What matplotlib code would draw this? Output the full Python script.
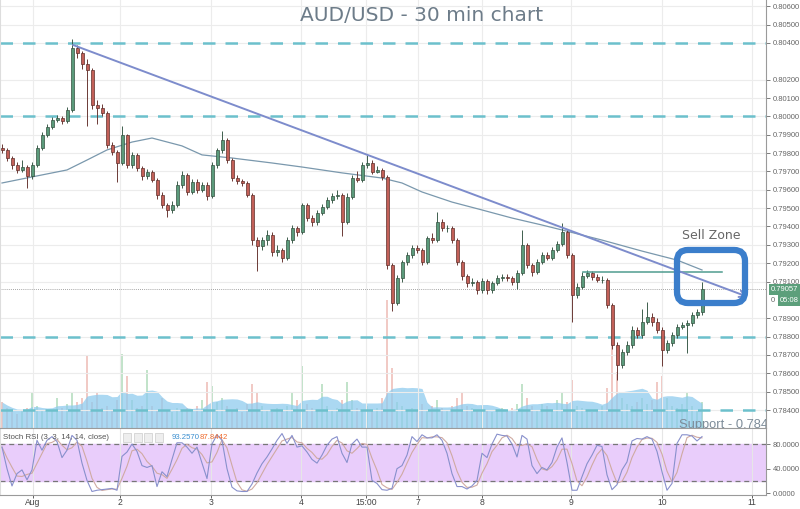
import numpy as np
import pandas as pd
import matplotlib
matplotlib.use('Agg')
import matplotlib.pyplot as plt
from matplotlib.patches import FancyBboxPatch, Rectangle
from matplotlib.transforms import blended_transform_factory

# ---------------- data ----------------
first_open = 0.79830
closes = [0.79817,0.79773,0.79735,0.79708,0.79724,0.79675,0.79735,0.79828,0.79899,0.79942,
          0.79980,0.79991,0.79975,0.80035,0.80373,0.80345,0.80286,0.80253,0.80062,0.80046,
          0.80019,0.79844,0.79806,0.79746,0.79899,0.79735,0.79790,0.79719,0.79675,0.79697,
          0.79653,0.79572,0.79517,0.79490,0.79517,0.79626,0.79681,0.79588,0.79643,0.79599,
          0.79626,0.79566,0.79735,0.79817,0.79871,0.79762,0.79664,0.79648,0.79637,0.79572,
          0.79326,0.79294,0.79326,0.79354,0.79261,0.79272,0.79228,0.79326,0.79392,0.79370,
          0.79517,0.79446,0.79425,0.79474,0.79506,0.79544,0.79566,0.79572,0.79425,0.79561,
          0.79664,0.79653,0.79735,0.79746,0.79697,0.79708,0.79670,0.79190,0.78983,0.79119,
          0.79206,0.79245,0.79283,0.79272,0.79206,0.79337,0.79326,0.79425,0.79392,0.79392,
          0.79326,0.79206,0.79130,0.79092,0.79097,0.79054,0.79103,0.79054,0.79092,0.79119,
          0.79125,0.79119,0.79097,0.79147,0.79299,0.79190,0.79152,0.79206,0.79245,0.79228,
          0.79272,0.79305,0.79370,0.79245,0.79027,0.79070,0.79130,0.79147,0.79125,0.79108,
          0.79108,0.78972,0.78754,0.78645,0.78716,0.78754,0.78836,0.78809,0.78880,0.78907,
          0.78880,0.78836,0.78727,0.78765,0.78809,0.78852,0.78863,0.78874,0.78918,0.78934,
          0.79057]
highs = [0.79850,0.79830,0.79785,0.79750,0.79760,0.79735,0.79750,0.79845,0.79915,0.79960,
         0.79995,0.80010,0.80000,0.80050,0.80420,0.80390,0.80355,0.80310,0.80265,0.80090,
         0.80070,0.80030,0.79860,0.79815,0.79950,0.79905,0.79805,0.79800,0.79730,0.79715,
         0.79710,0.79665,0.79590,0.79530,0.79540,0.79650,0.79700,0.79690,0.79660,0.79660,
         0.79640,0.79640,0.79750,0.79830,0.79920,0.79880,0.79775,0.79680,0.79660,0.79650,
         0.79585,0.79345,0.79345,0.79380,0.79370,0.79300,0.79285,0.79345,0.79410,0.79405,
         0.79530,0.79530,0.79460,0.79490,0.79520,0.79560,0.79580,0.79600,0.79585,0.79580,
         0.79680,0.79700,0.79750,0.79790,0.79760,0.79730,0.79720,0.79680,0.79200,0.79135,
         0.79220,0.79260,0.79300,0.79300,0.79285,0.79350,0.79365,0.79480,0.79440,0.79410,
         0.79400,0.79335,0.79215,0.79140,0.79120,0.79110,0.79120,0.79115,0.79105,0.79135,
         0.79140,0.79140,0.79130,0.79165,0.79380,0.79310,0.79200,0.79225,0.79260,0.79260,
         0.79290,0.79320,0.79420,0.79380,0.79255,0.79090,0.79150,0.79165,0.79160,0.79140,
         0.79130,0.79120,0.78985,0.78770,0.78730,0.78775,0.78860,0.78850,0.78950,0.78990,
         0.78930,0.78900,0.78850,0.78780,0.78825,0.78870,0.78880,0.78890,0.78935,0.78950,
         0.79100]
lows = [0.79800,0.79755,0.79715,0.79690,0.79695,0.79610,0.79660,0.79725,0.79815,0.79885,
        0.79930,0.79970,0.79960,0.79965,0.80025,0.80320,0.80260,0.79950,0.80040,0.79960,
        0.80000,0.79830,0.79790,0.79640,0.79735,0.79720,0.79720,0.79700,0.79655,0.79660,
        0.79640,0.79550,0.79500,0.79450,0.79475,0.79505,0.79610,0.79570,0.79575,0.79585,
        0.79590,0.79545,0.79555,0.79720,0.79800,0.79745,0.79650,0.79630,0.79620,0.79560,
        0.79300,0.79160,0.79270,0.79300,0.79240,0.79240,0.79205,0.79215,0.79310,0.79350,
        0.79360,0.79430,0.79405,0.79410,0.79460,0.79495,0.79530,0.79550,0.79350,0.79415,
        0.79550,0.79640,0.79640,0.79720,0.79685,0.79690,0.79655,0.79170,0.78940,0.78970,
        0.79100,0.79190,0.79230,0.79255,0.79190,0.79195,0.79310,0.79315,0.79375,0.79370,
        0.79310,0.79190,0.79110,0.79070,0.79075,0.79030,0.79040,0.79030,0.79040,0.79080,
        0.79105,0.79105,0.79080,0.79060,0.79135,0.79175,0.79130,0.79140,0.79195,0.79215,
        0.79215,0.79260,0.79295,0.79230,0.78880,0.79010,0.79060,0.79120,0.79110,0.79095,
        0.79090,0.78955,0.78735,0.78565,0.78630,0.78700,0.78740,0.78790,0.78795,0.78870,
        0.78860,0.78820,0.78640,0.78710,0.78750,0.78795,0.78840,0.78710,0.78860,0.78900,
        0.78920]
volumes = [26,20,16,14,18,20,36,22,18,16,
           18,30,20,24,36,26,30,72,26,36,
           20,22,18,28,74,52,28,20,22,58,
           22,18,30,18,16,20,18,20,16,22,
           28,46,42,26,30,22,18,20,16,24,
           44,36,22,18,16,20,18,22,36,28,
           62,24,20,18,44,22,18,20,28,46,
           28,20,18,22,18,20,30,128,60,26,
           22,18,20,18,24,18,22,28,20,18,
           22,30,36,22,20,18,22,18,16,18,
           20,16,20,24,44,30,22,18,24,22,
           18,28,36,26,48,22,20,18,16,18,
           22,40,90,56,30,24,22,26,30,24,
           28,46,52,30,22,20,24,36,22,18,
           26]
stoch_k = [75,40,12,32,38,22,38,86,70,86,
           92,84,58,70,94,86,49,21,3,5,
           6,7,8,5,60,67,80,68,45,42,
           45,11,35,27,55,82,82,75,65,75,
           49,24,80,95,86,40,10,4,3,3,
           15,33,48,59,72,86,97,81,94,75,
           77,67,55,49,62,78,88,92,65,50,
           80,88,75,75,21,16,6,5,8,40,
           45,62,92,84,95,90,90,95,86,65,
           32,11,11,7,12,21,65,58,80,96,
           94,93,80,59,94,88,45,32,42,38,
           50,75,90,50,5,5,27,48,62,78,
           76,30,6,14,38,51,85,89,88,92,
           88,68,35,5,16,81,95,95,93,85,
           92]
ma_bars = [0,6,13,17,21,26,30,36,40,46,54,60,68,76,80,84,90,96,102,108,112,120,128,135,140]
ma_vals = [0.79637,0.79670,0.79708,0.79762,0.79817,0.79860,0.79882,0.79839,0.79790,0.79773,
           0.79746,0.79724,0.79692,0.79664,0.79637,0.79588,0.79533,0.79490,0.79446,0.79408,
           0.79381,0.79326,0.79266,0.79217,0.79163]
trend_bars = [14.2, 149.2]
trend_vals = [0.80389, 0.79016]
level_lines = [0.80400, 0.80000, 0.78800, 0.78400]
resist_bars = [116.2, 144.0]
resist_val = 0.79152
last_price = 0.79057
sell_zone = [135.0, 148.6, 0.78983, 0.79272]
tick_pos = [6.2, 23.6, 41.8, 59.8, 72.8, 83.2, 96.0, 113.8, 132.0, 150.0]
tick_labels = ['Aug', '2', '3', '4', '15:00', '7', '8', '9', '10', '11']
price_ticks = [0.784,0.785,0.786,0.787,0.788,0.789,0.791,0.792,0.793,0.794,0.795,0.796,
               0.797,0.798,0.799,0.800,0.801,0.802,0.804,0.805,0.806]
stoch_ticks = [0, 40, 80]

SMALL = 'Liberation Sans'
AX_FS = 5.5

# ---------------- figure ----------------
fig = plt.figure(figsize=(8, 5.09), dpi=100)
fig.patch.set_facecolor('white')
W = 766 / 800
rect_main = [0, 1 - 428 / 509, W, 428 / 509]
axv = fig.add_axes(rect_main)
ax = fig.add_axes(rect_main)
axv.set_zorder(0); ax.set_zorder(1)
ax.patch.set_visible(False)
axs = fig.add_axes([0, 14 / 509, W, 67 / 509])

n = len(closes)
x = np.arange(n)
opens = np.array([first_open] + closes[:-1])
c = np.array(closes)
up = c >= opens

# volume panel (behind)
axv.set_xlim(-0.4, 152.8)
axv.set_ylim(0, 428)
axv.axis('off')
vcol = np.where(up, '#b3dcbd', '#eebdb7')
axv.bar(x, volumes, width=0.5, color=vcol, alpha=0.8, zorder=1)
vma = pd.Series(volumes).rolling(8, min_periods=1).mean().values
axv.fill_between(x, 0, vma, color='#8fcbee', alpha=0.75, lw=0, zorder=2)

# price axis
ax.set_xlim(-0.4, 152.8)
ax.set_ylim(0.78302, 0.80634)
ax.yaxis.tick_right()
ax.set_yticks(price_ticks)
ax.set_yticklabels(['%.5f' % t for t in price_ticks], fontfamily=SMALL)
ax.tick_params(axis='y', labelsize=AX_FS, colors='#666666', length=3, width=0.6, pad=2)
ax.set_xticks(tick_pos)
ax.tick_params(axis='x', labelbottom=False, length=0)
ax.grid(True, color='#ececec', lw=0.8)
ax.set_axisbelow(True)
ax.spines['top'].set_visible(False)
ax.spines['left'].set_color('#dddddd')
ax.spines['right'].set_color('#9a9a9a')
ax.spines['bottom'].set_color('#9a9a9a')

# dashed levels
for lv in level_lines:
    ax.axhline(lv, color='#6cc0cc', lw=1.8, ls=(0, (5, 4)), zorder=2)

# last price dotted
ax.axhline(last_price, color='#888888', lw=0.6, ls=(0, (1, 1.5)), zorder=2)

# moving average
ax.plot(ma_bars, ma_vals, color='#7a98ad', lw=0.9, zorder=3)

# candles
wick_col = np.where(up, '#3f5e4d', '#6b3a36')
ax.vlines(x, lows, highs, color=wick_col, lw=0.7, zorder=4)
body_bot = np.minimum(opens, c)
body_h = np.maximum(np.abs(c - opens), 0.00002)
ax.bar(x, body_h, bottom=body_bot, width=0.6,
       color=np.where(up, '#5b9a7b', '#c26058'),
       edgecolor=np.where(up, '#34503f', '#5e2f2b'), lw=0.5, zorder=5)

# resistance line
ax.plot(resist_bars, [resist_val, resist_val], color='#4f9c8f', lw=1.1, zorder=6)

# trend line with arrow
ax.annotate('', xy=(trend_bars[1], trend_vals[1]), xytext=(trend_bars[0], trend_vals[0]),
            arrowprops=dict(arrowstyle='->', color='#7d8ccc', lw=1.4, mutation_scale=12,
                            shrinkA=0, shrinkB=0), zorder=7)

# sell zone box
aspect = (0.02332 / 428) / (1 / 5)
box = FancyBboxPatch((sell_zone[0], sell_zone[2]), sell_zone[1] - sell_zone[0],
                     sell_zone[3] - sell_zone[2],
                     boxstyle='round,pad=0,rounding_size=2.2', mutation_aspect=aspect,
                     fill=False, ec='#3b7ecb', lw=4.5, zorder=8)
ax.add_patch(box)
ax.text((sell_zone[0] + sell_zone[1]) / 2, 0.79350, 'Sell Zone', ha='center', va='center',
        fontsize=9, color='#666666', zorder=9)

# support text
ax.text(135.4, 0.78320, 'Support - 0.7840', ha='left', va='center', fontsize=9.3,
        fontfamily=SMALL, color='#7d8c99', clip_on=True, zorder=9)

# right-side price labels
trans = blended_transform_factory(ax.transAxes, ax.transData)
ax.text(1.0065, last_price, '0.79057', transform=trans, fontsize=AX_FS, color='white',
        fontfamily=SMALL, ha='left', va='center', clip_on=False, zorder=10,
        bbox=dict(boxstyle='square,pad=0.3', fc='#5c9f7b', ec='none'))
ax.text(1.0065, 0.78998, '0', transform=trans, fontsize=AX_FS, color='#666666',
        fontfamily=SMALL, ha='left', va='center', clip_on=False, zorder=10)
ax.text(1.0185, 0.78998, '05:08', transform=trans, fontsize=AX_FS, color='white',
        fontfamily=SMALL, ha='left', va='center', clip_on=False, zorder=10,
        bbox=dict(boxstyle='square,pad=0.3', fc='#5c9f7b', ec='none'))

# ---------------- stoch RSI ----------------
k = pd.Series(stoch_k, dtype=float)
d = k.rolling(3, min_periods=1).mean()
axs.set_xlim(-0.4, 152.8)
axs.set_ylim(-2.7, 106)
axs.axhspan(20, 80, color='#e9cdfb', zorder=0)
axs.axhline(80, color='#777777', lw=0.9, ls=(0, (4, 3)), zorder=1)
axs.axhline(20, color='#777777', lw=0.9, ls=(0, (4, 3)), zorder=1)
axs.plot(x, d, color='#cfaaa2', lw=0.8, zorder=2)
axs.plot(x, k, color='#8890cc', lw=0.8, zorder=3)
axs.yaxis.tick_right()
axs.set_yticks(stoch_ticks)
axs.set_yticklabels(['%.4f' % t for t in stoch_ticks], fontfamily=SMALL)
axs.tick_params(axis='y', labelsize=AX_FS, colors='#666666', length=3, width=0.6, pad=2)
axs.set_xticks(tick_pos)
axs.set_xticklabels(tick_labels, fontfamily=SMALL)
axs.tick_params(axis='x', labelsize=6.2, colors='#444444', length=2, width=0.6, pad=0.5)
axs.grid(True, axis='x', color='#e6e6e6', lw=0.8)
axs.set_axisbelow(True)
axs.spines['top'].set_visible(False)
axs.spines['left'].set_color('#dddddd')
axs.spines['right'].set_color('#9a9a9a')
axs.spines['bottom'].set_color('#9a9a9a')
axs.text(0.004, 0.86, 'Stoch RSI (3, 3, 14, 14, close)', transform=axs.transAxes,
         fontsize=5.7, fontfamily=SMALL, color='#555555', ha='left', va='center')
for i in range(4):
    axs.add_patch(Rectangle((0.1606 + i * 0.0137, 0.79), 0.0110, 0.14, transform=axs.transAxes,
                            fc='#eeeeee', ec='#cccccc', lw=0.5, zorder=4))
axs.text(0.2245, 0.86, '93.2570', transform=axs.transAxes, fontsize=5.6, fontfamily=SMALL,
         color='#3b8fd0', ha='left', va='center')
axs.text(0.2600, 0.86, '87.8442', transform=axs.transAxes, fontsize=5.6, fontfamily=SMALL,
         color='#ee6a2c', ha='left', va='center')

# title
fig.text(0.5275, 0.9705, 'AUD/USD - 30 min chart', ha='center', va='center',
         fontsize=14.5, color='#6d7c89')

fig.savefig('out.png', dpi=100, facecolor='white')
